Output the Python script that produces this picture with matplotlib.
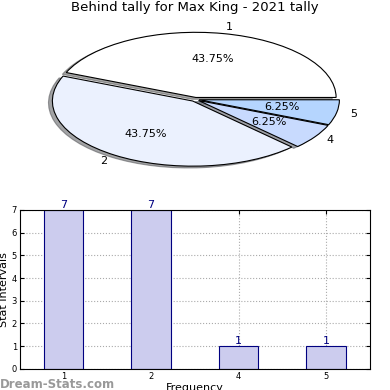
import matplotlib
matplotlib.use("Agg")
import matplotlib.pyplot as plt

categories = ["1", "2", "4", "5"]
counts = [7, 7, 1, 1]
pie_colors = ["#ffffff", "#ebf1fe", "#c8dafe", "#b5d5fe"]

fig = plt.figure(figsize=(3.9, 3.9), dpi=100)

# pie on top, squashed into an ellipse
ax1 = fig.add_axes([0.054, 0.523, 0.892, 0.441])
ax1.pie(counts, labels=categories, colors=pie_colors, autopct="%.2f%%",
        startangle=0, counterclock=True, shadow=True,
        explode=[0.03, 0.03, 0.03, 0.03],
        wedgeprops={"edgecolor": "black", "linewidth": 0.8},
        textprops={"fontsize": 8})
ax1.set_aspect("auto")
ax1.set_xlim(-1.24, 1.24)
ax1.set_ylim(-1.33, 1.31)
ax1.set_title("Behind tally for Max King - 2021 tally", fontsize=9.5, pad=2)

# bar chart below
ax2 = fig.add_axes([0.051, 0.054, 0.897, 0.408])
x = range(len(categories))
ax2.bar(x, counts, width=0.45, color="#ccccee", edgecolor="navy", linewidth=0.8, zorder=2)
for i, v in enumerate(counts):
    ax2.text(i, v, str(v), ha="center", va="bottom", color="navy", fontsize=8)
ax2.set_xticks(list(x))
ax2.set_xticklabels(categories)
ax2.set_xlim(-0.5, 3.5)
ax2.set_ylim(0, 7)
ax2.set_yticks(range(8))
ax2.tick_params(labelsize=6, direction="in", top=True, right=True, length=3, pad=2)
ax2.grid(True, linestyle=":", color="#aaaaaa", linewidth=0.8, zorder=0)
ax2.set_ylabel("Stat Intervals", fontsize=8, labelpad=2)
ax2.set_xlabel("Frequency", fontsize=8, labelpad=2)

fig.text(0.0, 0.005, "Dream-Stats.com", color="#999999", fontsize=8.5, fontweight="bold")

fig.savefig("out.png", dpi=100)
